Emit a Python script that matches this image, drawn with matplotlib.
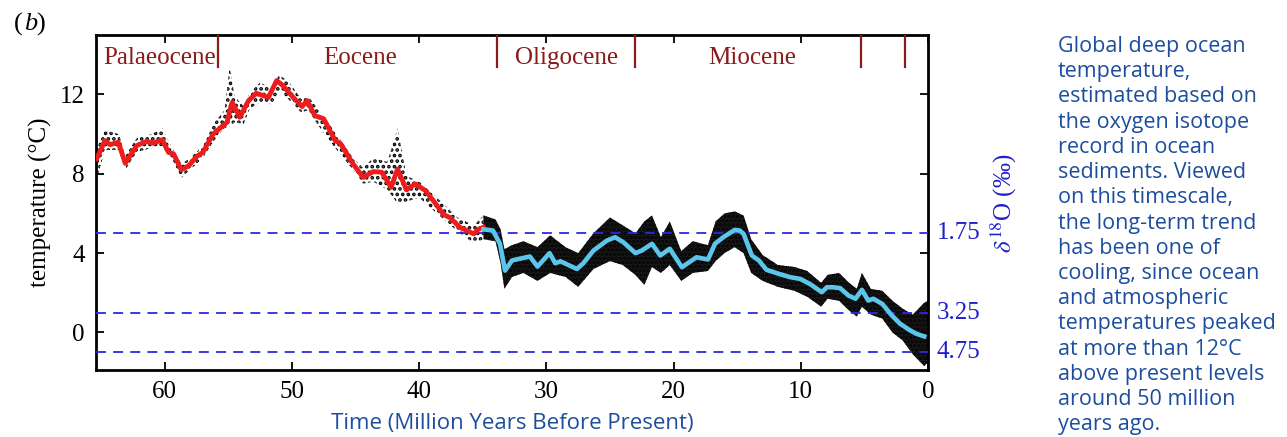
import numpy as np
import matplotlib
matplotlib.use("Agg")
import matplotlib.pyplot as plt

# smoothed deep-ocean temperature, Palaeocene-Eocene (red)
red_age = [65.35, 64.7, 64.3, 63.65, 63.1, 62.2, 61.4, 60.9, 60.2, 59.7, 59.3, 58.7,
           58.1, 57.5, 57.0, 56.2, 55.1, 54.7, 54.1, 53.4, 52.8, 51.85, 51.2, 50.7,
           49.9, 49.2, 48.8, 48.2, 47.5, 46.6, 46.2, 45.2, 44.4, 43.6, 42.95, 42.2,
           41.7, 41.0, 40.3, 39.5, 38.6, 38.1, 37.6, 36.8, 35.7, 35.35, 34.95]
red_temp = [8.75, 9.67, 9.47, 9.59, 8.53, 9.42, 9.64, 9.54, 9.72, 9.08, 9.0, 8.2,
            8.41, 8.87, 9.08, 10.0, 10.6, 11.6, 10.85, 11.7, 12.06, 11.85, 12.7, 12.44,
            11.85, 11.39, 11.69, 10.93, 10.77, 9.67, 9.54, 8.5, 7.82, 8.11, 8.08, 7.32,
            8.24, 7.19, 7.49, 7.15, 6.4, 5.95, 5.8, 5.3, 4.97, 5.2, 5.3]

# smoothed deep-ocean temperature, Oligocene to present (light blue)
blue_age = [34.95, 34.2, 33.65, 33.25, 32.7, 31.8, 31.3, 30.7, 29.75, 29.3, 28.9, 27.6,
            27.1, 26.3, 25.25, 24.6, 23.95, 23.0, 22.5, 21.7, 21.05, 20.3, 19.35, 18.2,
            17.3, 16.75, 16.1, 15.2, 14.8, 14.5, 14.1, 13.85, 13.3, 12.7, 11.75, 10.85,
            10.05, 9.3, 8.35, 7.95, 7.45, 6.9, 6.25, 5.7, 5.2, 4.7, 4.3, 3.6, 2.85,
            2.2, 1.4, 0.9, 0.3]
blue_temp = [5.2, 5.14, 4.47, 3.12, 3.63, 3.76, 3.83, 3.32, 4.0, 3.49, 3.59, 3.2,
             3.49, 4.13, 4.63, 4.8, 4.55, 4.0, 4.13, 4.47, 3.88, 4.22, 3.29, 3.79,
             3.68, 4.47, 4.8, 5.17, 5.14, 4.97, 4.3, 3.88, 3.63, 3.16, 2.96, 2.79,
             2.7, 2.45, 2.03, 2.28, 2.28, 2.23, 1.86, 1.7, 2.15, 1.61, 1.7, 1.44, 0.86,
             0.44, 0.1, -0.07, -0.2]

# spread of the raw isotope data (lower / upper edge of the black cloud)
cloud_age = [65.4, 64.7, 63.6, 63.1, 62.2, 61.0, 60.2, 59.5, 58.7, 58.0, 57.0, 56.2,
             55.3, 54.9, 54.5, 53.8, 53.3, 52.5, 51.6, 51.0, 50.2, 49.3, 48.7, 48.0,
             46.6, 45.2, 44.4, 43.6, 42.5, 41.7, 41.0, 40.0, 38.6, 37.0, 35.7, 34.95,
             34.0, 33.6, 33.3, 32.7, 31.8, 30.7, 29.7, 28.5, 27.5, 26.3, 25.0, 24.0,
             23.0, 22.3, 21.7, 21.0, 20.3, 19.4, 18.5, 17.3, 16.7, 16.0, 15.2, 14.5,
             13.9, 13.0, 11.8, 10.5, 9.5, 8.4, 7.9, 7.0, 6.2, 5.6, 5.2, 4.5, 3.6,
             2.8, 2.0, 1.2, 0.3, 0.0]
cloud_lo = [7.6, 9.2, 9.2, 8.2, 9.1, 9.3, 9.4, 8.8, 7.8, 8.2, 8.8, 9.6,
            10.3, 10.4, 10.6, 10.5, 11.3, 11.6, 11.5, 12.2, 11.7, 11.1, 11.2, 10.5,
            9.3, 8.2, 7.5, 7.6, 7.2, 6.5, 6.6, 6.8, 6.0, 5.1, 4.5, 4.7,
            4.6, 3.5, 2.2, 2.8, 3.0, 2.6, 3.0, 2.8, 2.3, 3.2, 3.6, 3.4,
            2.9, 2.4, 3.3, 3.0, 3.4, 2.6, 3.0, 3.1, 3.6, 4.0, 4.3, 4.0,
            3.0, 2.6, 2.3, 2.1, 1.8, 1.3, 1.7, 1.6, 1.1, 0.8, 1.3, 0.9, 0.7,
            0.0, -0.4, -1.1, -1.7, -1.5]
cloud_hi = [9.2, 10.2, 10.0, 8.9, 9.8, 10.0, 10.3, 9.4, 8.5, 8.8, 9.4, 10.5,
            11.2, 13.4, 11.9, 11.4, 12.1, 12.6, 12.3, 13.0, 12.6, 11.8, 11.9, 11.3,
            10.1, 8.8, 8.3, 8.8, 8.6, 10.3, 7.9, 7.6, 6.8, 5.8, 5.4, 5.9,
            5.7, 5.2, 4.2, 4.4, 4.6, 4.3, 4.9, 4.3, 4.0, 5.0, 5.8, 5.4,
            5.0, 5.6, 5.9, 4.8, 5.6, 4.1, 4.6, 4.4, 5.6, 6.0, 6.1, 5.9,
            4.7, 3.9, 3.4, 3.3, 3.1, 2.5, 2.9, 3.0, 2.5, 2.2, 3.0, 2.2, 2.1,
            1.6, 1.2, 0.9, 1.5, 1.6]

# geological epochs
epoch_bounds = [55.8, 33.9, 23.0, 5.3, 1.8]
epoch_names = ["Palaeocene", "Eocene", "Oligocene", "Miocene"]
epoch_label_x = [60.4, 44.6, 28.45, 13.8]

# delta-18O reference levels
d18o_temp = [5, 1, -1]
d18o_labels = ["1.75", "3.25", "4.75"]

caption = ("Global deep ocean\ntemperature,\nestimated based on\nthe oxygen isotope\n"
           "record in ocean\nsediments. Viewed\non this timescale,\nthe long-term trend\n"
           "has been one of\ncooling, since ocean\nand atmospheric\ntemperatures peaked\n"
           "at more than 12°C\nabove present levels\naround 50 million\nyears ago.")

serif = ["Liberation Serif", "DejaVu Serif"]
plt.rcParams['font.family'] = serif
plt.rcParams['mathtext.fontset'] = 'stix'
plt.rcParams['hatch.linewidth'] = 1.8

text_blue = '#1d4e9e'
epoch_red = '#8b1a1a'


def main():
    fig = plt.figure(figsize=(12.87, 4.37), dpi=100)
    ax = fig.add_axes([0.0746, 0.153, 0.6465, 0.767])

    age = np.array(cloud_age)
    lo = np.array(cloud_lo)
    hi = np.array(cloud_hi)
    sparse = age >= 34.95
    dense = age <= 34.95
    ax.fill_between(age[sparse], lo[sparse], hi[sparse], facecolor='none',
                    edgecolor='black', hatch='...', linewidth=0, zorder=2)
    ax.fill_between(age[dense], lo[dense], hi[dense], facecolor='black',
                    edgecolor='black', hatch='....', linewidth=0, alpha=0.9, zorder=2)

    ax.plot(red_age, red_temp, color='#ee1c1c', lw=3.5, zorder=4, solid_joinstyle='round')
    ax.plot(blue_age, blue_temp, color='#5cc6ea', lw=3.3, zorder=4, solid_joinstyle='round')

    for t, lab in zip(d18o_temp, d18o_labels):
        ax.axhline(t, color='#2a2ae0', lw=1.3, dashes=(5.5, 4), zorder=3)
        ax.text(1.01, t, lab, transform=ax.get_yaxis_transform(), color='#2020cc',
                fontsize=18, va='center', ha='left')

    for b in epoch_bounds:
        ax.plot([b, b], [13.4, 15], color=epoch_red, lw=1.6, zorder=3)
    for name, x in zip(epoch_names, epoch_label_x):
        ax.text(x, 13.85, name, color=epoch_red, fontsize=18, ha='center', va='center')

    ax.set_xlim(65.4, 0)
    ax.set_ylim(-1.9, 15)
    ax.set_xticks([60, 50, 40, 30, 20, 10, 0])
    ax.set_yticks([0, 4, 8, 12])
    ax.tick_params(direction='in', length=6, width=1.3, labelsize=18,
                   top=True, right=True, pad=8)
    for s in ax.spines.values():
        s.set_linewidth(2)

    ax.set_ylabel('temperature (°C)', fontsize=18, labelpad=6)
    ax.set_xlabel('Time (Million Years Before Present)', fontsize=16,
                  color=text_blue, family=['Open Sans', 'DejaVu Sans'], labelpad=7)

    fig.text(0.780, 0.535, r'$\delta^{18}$O (‰)', rotation=90, color='#2020cc',
             fontsize=18, ha='center', va='center')
    fig.text(0.011, 0.945, '(', fontsize=19, va='center')
    fig.text(0.0185, 0.945, 'b', fontsize=19, style='italic', va='center')
    fig.text(0.0285, 0.945, ')', fontsize=19, va='center')

    fig.text(0.822, 0.918, caption, color=text_blue, fontsize=15.5, va='top', ha='left',
             linespacing=1.265, family=['Open Sans', 'DejaVu Sans'])

    fig.savefig('out.png', dpi=100)


if __name__ == "__main__":
    main()
